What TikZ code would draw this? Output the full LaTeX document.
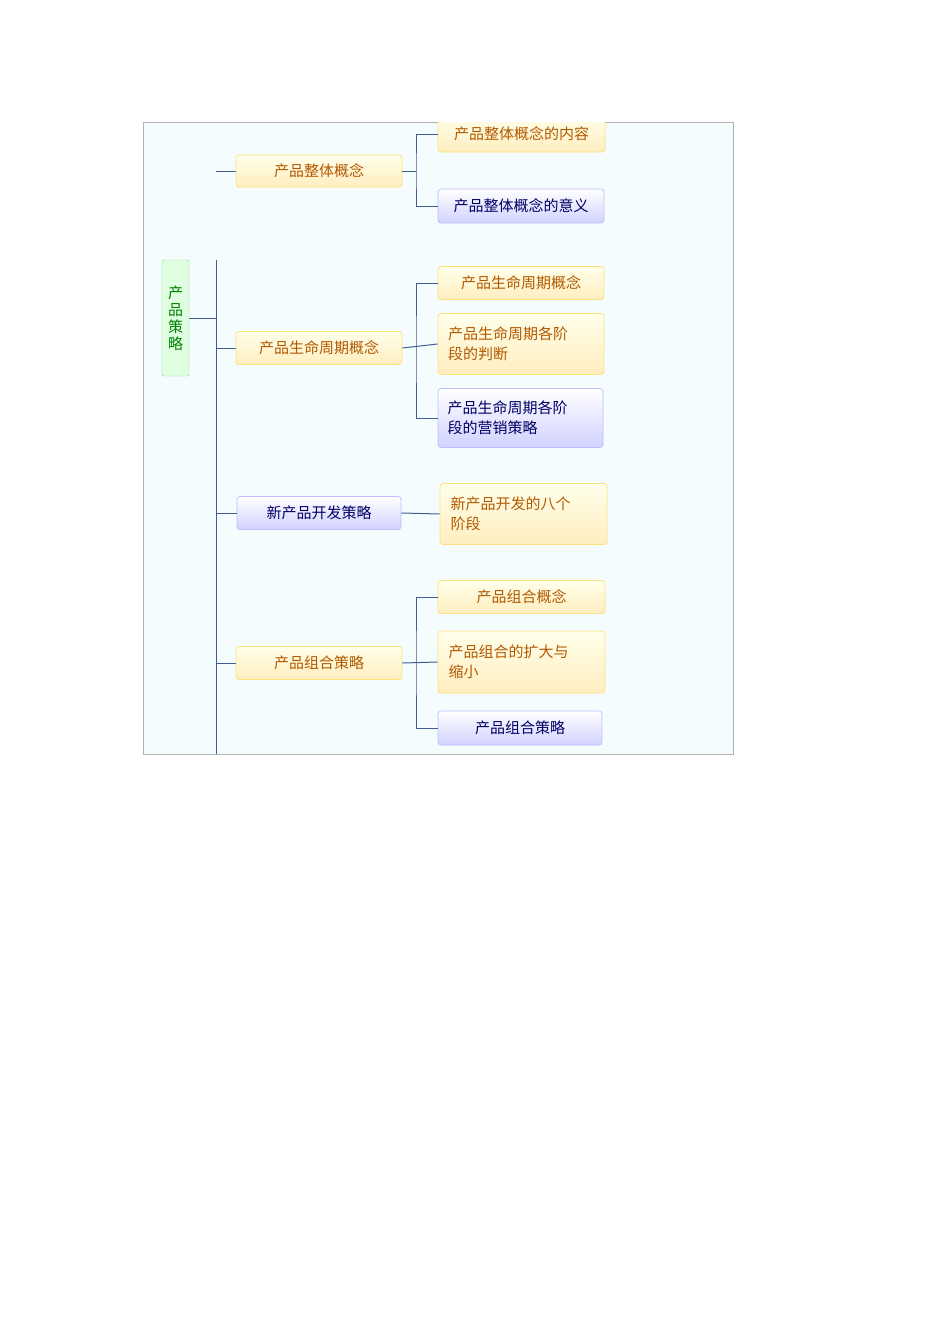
\documentclass[tikz,border=0pt]{standalone}
\usepackage{fontspec}
\setmainfont{Noto Sans CJK SC}
\begin{document}
\begin{tikzpicture}[x=1pt,y=-1pt,
  yb/.style={draw=yellow!60!orange!50,line width=0.8pt,rounded corners=3pt,top color=yellow!8,bottom color=yellow!45!orange!25,text=orange!70!black,font=\fontsize{15}{20}\selectfont,inner sep=0pt,align=left},
  bb/.style={draw=blue!25,line width=0.8pt,rounded corners=3pt,top color=white,bottom color=blue!18,text=blue!40!black,font=\fontsize{15}{20}\selectfont,inner sep=0pt,align=left},
  ln/.style={draw=cyan!40!blue!70!black,line width=1pt}]
\useasboundingbox (0,0) rectangle (950,1344);
\draw[fill=cyan!4,draw=gray!60] (143,122) rectangle (733,754);
\begin{scope}
\clip (143,122) rectangle (733,754);
\node[draw=green!40!gray!60,fill=green!12,rounded corners=2pt,minimum width=27pt,minimum height=116pt,text=green!50!black,font=\fontsize{15}{17}\selectfont,align=center,inner sep=0pt] (r) at (175.5,318) {产\\品\\策\\略};
\coordinate (t1) at (216,122); \coordinate (t2) at (216,754);
\node[yb,minimum width=166pt,minimum height=32pt,align=center] (a) at (319,171) {产品整体概念};
\node[yb,minimum width=166pt,minimum height=33pt,align=center] (b) at (319,348) {产品生命周期概念};
\node[bb,minimum width=164pt,minimum height=33pt,align=center] (c) at (319,513) {新产品开发策略};
\node[yb,minimum width=166pt,minimum height=33pt,align=center] (d) at (319,663) {产品组合策略};
\node[yb,minimum width=167pt,minimum height=36pt,align=center] (a1) at (521.5,134) {产品整体概念的内容};
\node[bb,minimum width=166pt,minimum height=34pt,align=center] (a2) at (521,206) {产品整体概念的意义};
\node[yb,minimum width=166pt,minimum height=33pt,align=center] (b1) at (521,283) {产品生命周期概念};
\node[yb,minimum width=166pt,minimum height=61pt,text width=146pt] (b2) at (521,344) {产品生命周期各阶\\段的判断};
\node[bb,minimum width=165pt,minimum height=59pt,text width=146pt] (b3) at (520.5,418) {产品生命周期各阶\\段的营销策略};
\node[yb,minimum width=167pt,minimum height=61pt,text width=146pt] (c1) at (523.5,514) {新产品开发的八个\\阶段};
\node[yb,minimum width=167pt,minimum height=33pt,align=center] (d1) at (521.5,597) {产品组合概念};
\node[yb,minimum width=167pt,minimum height=62pt,text width=146pt] (d2) at (521.5,662) {产品组合的扩大与\\缩小};
\node[bb,minimum width=164pt,minimum height=34pt,align=center] (d3) at (520,728) {产品组合策略};
\draw[ln] (t1 |- r.north) -- (t2);
\draw[ln] (r.east) -- (216,318);
\foreach \n in {a,b,c,d} \draw[ln] (216,0 |- \n.west) -- (\n.west);
\draw[ln] (a.east) -- (416,171);
\draw[ln] (a1.west) -| (416,171) |- (a2.west);
\draw[ln] (b.east) -- (b2.west);
\draw[ln] (b1.west) -| (416,348) |- (b3.west);
\draw[ln] (c.east) -- (c1.west);
\draw[ln] (d.east) -- (d2.west);
\draw[ln] (d1.west) -| (416,663) |- (d3.west);
\end{scope}
\end{tikzpicture}
\end{document}
